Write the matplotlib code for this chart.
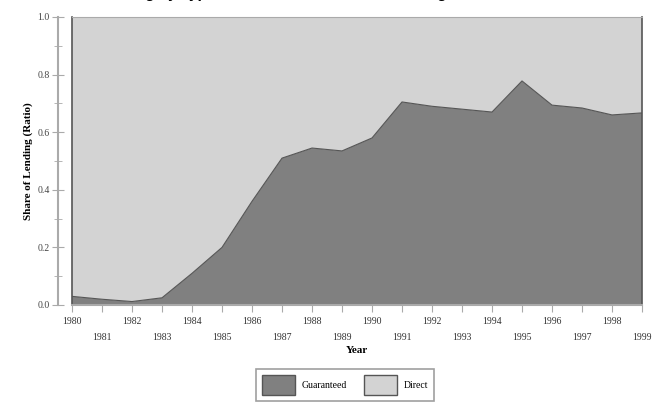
import matplotlib
matplotlib.use("Agg")
import matplotlib.pyplot as plt
import numpy as np

# datos
years = list(range(1980, 2000))
guaranteed = [0.03, 0.02, 0.012, 0.025, 0.11, 0.20, 0.36, 0.51, 0.545, 0.535,
              0.58, 0.705, 0.69, 0.68, 0.67, 0.778, 0.694, 0.684, 0.66, 0.667]
direct = [1 - g for g in guaranteed]
labels = ["Guaranteed", "Direct"]
colors = ["#808080", "#d3d3d3"]

plt.rcParams["font.family"] = ["Liberation Serif", "DejaVu Serif"]

fig = plt.figure(figsize=(6.55, 4.12), dpi=100)
ax = fig.add_axes([72 / 655, 1 - 305 / 412, 570 / 655, 288 / 412])

polys = ax.stackplot(years, guaranteed, direct, colors=colors, labels=labels,
                     edgecolor="none")
ax.plot(years, guaranteed, color="#555555", lw=0.8)

ax.set_xlim(1980, 1999)
ax.set_ylim(0, 1.0)

# ejes
for s in ["left", "right"]:
    ax.spines[s].set_color("#555555")
    ax.spines[s].set_linewidth(1.2)
ax.spines["top"].set_color("#aaaaaa")
ax.spines["bottom"].set_color("#aaaaaa")
ax.spines["bottom"].set_linewidth(1.5)

# eje y separado
ax2 = fig.add_axes([58 / 655, 1 - 305 / 412, 0.001, 288 / 412])
ax2.set_ylim(0, 1.0)
ax2.set_xticks([])
for s in ["top", "right", "bottom"]:
    ax2.spines[s].set_visible(False)
ax2.spines["left"].set_color("#aaaaaa")
ax2.spines["left"].set_linewidth(1.5)
ax2.set_yticks(np.arange(0, 1.01, 0.2))
ax2.set_yticks(np.arange(0.1, 1.0, 0.2), minor=True)
ax2.set_yticklabels(["%.1f" % v for v in np.arange(0, 1.01, 0.2)], fontsize=7,
                    color="#444444")
ax2.tick_params(axis="y", which="major", length=8, direction="inout", color="#aaaaaa", pad=2)
ax2.tick_params(axis="y", which="minor", length=6, direction="inout", color="#aaaaaa")
ax2.set_ylabel("Share of Lending (Ratio)", fontsize=8, fontweight="bold", labelpad=3)
ax2.patch.set_visible(False)

ax.set_yticks([])
ax.set_xticks(years)
ax.set_xticklabels([str(y) if y % 2 == 0 else "\n" + str(y) for y in years],
                   fontsize=7, color="#333333", linespacing=1.9)
ax.tick_params(axis="x", length=5, color="#aaaaaa", pad=4)
ax.set_xlabel("Year", fontsize=8, fontweight="bold", labelpad=3)

leg = fig.legend(handles=polys, labels=labels, loc="center", ncol=2,
                 bbox_to_anchor=(345 / 655, 1 - 385 / 412), fontsize=7,
                 frameon=True, fancybox=False, edgecolor="#888888",
                 handlelength=3.4, handleheight=2.7, borderpad=0.6,
                 columnspacing=1.8, handletextpad=0.7)
for h in leg.legend_handles:
    h.set_edgecolor("#555555")
    h.set_linewidth(1)
leg.get_frame().set_linewidth(1.2)

# titulo cortado en el borde superior, como en la referencia
fig.text(95 / 655, 1.006, "Lending by Type: Guaranteed vs. Direct Lending", ha="left",
         va="baseline", fontsize=11, fontweight="bold", family="Liberation Sans")

fig.savefig("out.png", dpi=100)
